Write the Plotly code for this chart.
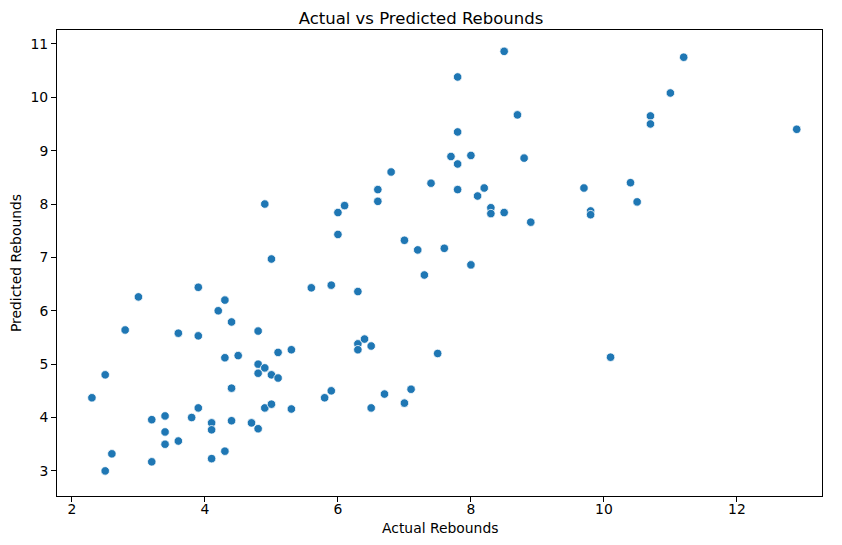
import plotly.graph_objects as go

# actual vs predicted rebounds
actual = [2.3, 2.5, 2.5, 2.6, 2.8, 3.0, 3.2, 3.2, 3.4, 3.4, 3.4, 3.6, 3.6, 3.8,
          3.9, 3.9, 3.9, 4.1, 4.1, 4.1, 4.2, 4.3, 4.3, 4.3, 4.4, 4.4, 4.4, 4.5,
          4.7, 4.8, 4.8, 4.8, 4.8, 4.9, 4.9, 4.9, 5.0, 5.0, 5.0, 5.1, 5.1, 5.3,
          5.3, 5.6, 5.8, 5.9, 5.9, 6.0, 6.0, 6.1, 6.3, 6.3, 6.3, 6.4, 6.5, 6.5,
          6.6, 6.6, 6.7, 6.8, 7.0, 7.0, 7.1, 7.2, 7.3, 7.4, 7.5, 7.6, 7.7, 7.8,
          7.8, 7.8, 7.8, 8.0, 8.0, 8.1, 8.2, 8.3, 8.3, 8.5, 8.5, 8.7, 8.8, 8.9,
          9.7, 9.8, 9.8, 10.1, 10.4, 10.5, 10.7, 10.7, 11.0, 11.2, 12.9]
predicted = [4.37, 4.80, 3.00, 3.32, 5.64, 6.26, 3.96, 3.17, 4.03, 3.73, 3.50,
             5.58, 3.56, 4.00, 6.44, 5.53, 4.18, 3.90, 3.77, 3.23, 6.00, 6.20,
             5.12, 3.37, 5.79, 4.55, 3.94, 5.16, 3.90, 5.62, 5.00, 4.83, 3.79,
             8.00, 4.93, 4.18, 6.97, 4.80, 4.25, 5.22, 4.74, 5.27, 4.16, 6.43,
             4.37, 6.48, 4.50, 7.84, 7.43, 7.97, 6.36, 5.38, 5.27, 5.47, 5.34,
             4.18, 8.27, 8.05, 4.44, 8.60, 7.32, 4.27, 4.53, 7.14, 6.67, 8.39,
             5.20, 7.17, 8.89, 10.38, 9.35, 8.75, 8.27, 8.91, 6.86, 8.15, 8.30,
             7.93, 7.82, 7.84, 10.86, 9.67, 8.86, 7.66, 8.30, 7.87, 7.80, 5.13,
             8.40, 8.04, 9.65, 9.50, 10.08, 10.75, 9.40]

fig = go.Figure(go.Scatter(
    x=actual, y=predicted, mode="markers",
    marker=dict(color="#1f77b4", size=8.5, line=dict(color="white", width=0.8)),
))

axis_style = dict(showgrid=False, zeroline=False, showline=True, linecolor="black",
                  linewidth=1, mirror=True, ticks="outside", ticklen=5,
                  tickcolor="black", tickfont=dict(size=13.9, color="black"),
                  automargin=False)

# figure sized to fit inside the page's 8px body margin
fig.update_layout(
    width=826, height=529,
    margin=dict(l=49, r=12, t=22, b=41),
    paper_bgcolor="white", plot_bgcolor="white",
    font=dict(family="DejaVu Sans", color="black"),
    title=dict(text="Actual vs Predicted Rebounds", x=0.5, xanchor="center",
               y=1, yanchor="top", pad=dict(t=4), font=dict(size=16.5)),
    showlegend=False,
    xaxis=dict(range=[1.775, 13.28], tickvals=[2, 4, 6, 8, 10, 12],
               ticklabelstandoff=-5, **axis_style),
    yaxis=dict(range=[2.53, 11.26], tickvals=list(range(3, 12)),
               title=dict(text="Predicted Rebounds", font=dict(size=13.9)),
               **axis_style),
)

fig.add_annotation(text="Actual Rebounds", xref="paper", yref="paper", x=0.5, y=0,
                   xanchor="center", yanchor="middle", yshift=-32,
                   showarrow=False, font=dict(size=13.9))

fig.write_html("out.html")
